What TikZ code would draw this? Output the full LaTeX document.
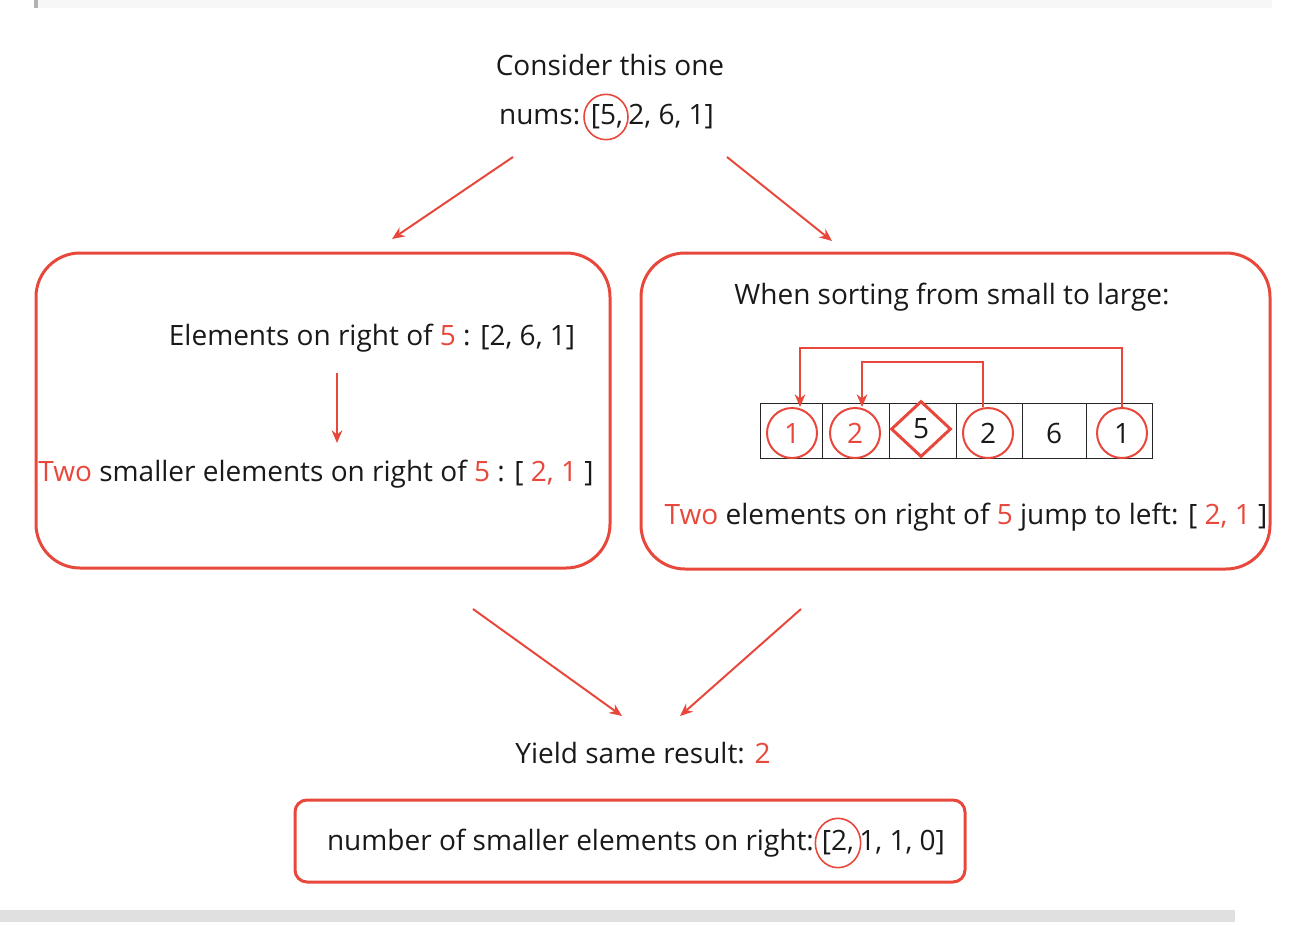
\documentclass[tikz,border=0pt]{standalone}
\usepackage{fontspec}
\setmainfont{Open Sans}
\usetikzlibrary{arrows.meta,shapes.geometric}
\definecolor{myred}{RGB}{232,72,60}
\definecolor{txtblack}{RGB}{25,25,25}
\begin{document}
\begin{tikzpicture}[x=0.75pt,y=-0.75pt,
  every node/.style={font=\fontsize{21}{25}\selectfont, text=txtblack},
  txt/.style={inner sep=0pt, outer sep=0pt},
  arr/.style={draw=myred, line width=1.5pt, -{Stealth[length=9.5pt,width=8pt]}},
  rbox/.style={draw=myred, line width=2.25pt, rounded corners=33pt, inner sep=0pt, outer sep=0pt},
  cell/.style={draw=black!85, line width=0.6pt, minimum width=#1, minimum height=41.25pt, inner sep=0pt, outer sep=0pt},
  ring/.style={circle, draw=myred, line width=1.5pt, minimum size=37.5pt, inner sep=0pt},
  hl/.style={ellipse, draw=myred, line width=1.2pt, inner sep=0pt}
]
\useasboundingbox (0,0) rectangle (1294,924);
% page bands
\fill[black!3] (38,0) rectangle (1272,8);
\fill[black!30] (34,0) rectangle (38,8);
\fill[black!12] (0,910) rectangle (1235,922);

% top text
\node[txt] (consider) at (610,65) {Consider this one};
\node[txt] (n5) at (607,117) {[5,};
\node[hl, minimum width=33pt, minimum height=34pt] (n5c) at (606,117) {};
\node[txt, anchor=base east] (n0) at ([xshift=-8pt]n5.base west) {nums:};
\node[txt, anchor=base west] (n1) at ([xshift=4pt]n5.base east) {2, 6, 1]};

% arrows from top
\coordinate (a1s) at (513,157); \coordinate (a1e) at (392,239);
\coordinate (a2s) at (727,157); \coordinate (a2e) at (832,241);
\draw[arr] (a1s) -- (a1e);
\draw[arr] (a2s) -- (a2e);

% left box
\node[rbox, minimum width=430.5pt, minimum height=236.25pt] (lbox) at (323,410.5) {};
\node[txt] (lt1) at (372,338) {Elements on right of {\color{myred}5} : [2, 6, 1]};
\node[txt] (lt2) at (316,474) {{\color{myred}Two} smaller elements on right of {\color{myred}5} : [ {\color{myred}2, 1} ]};
\coordinate (a3s) at (337,373); \coordinate (a3e) at (337,443);
\draw[arr] (a3s) -- (a3e);

% right box
\node[rbox, minimum width=471.75pt, minimum height=237pt] (rbx) at (955.5,411) {};
\node[txt] (rt1) at (952,297) {When sorting from small to large:};
\node[cell=46.5pt] (c1) at (791,430.5) {};
\node[cell=50.25pt] (c2) at (855.5,430.5) {};
\node[cell=50.25pt] (c3) at (922.5,430.5) {};
\node[cell=49.5pt] (c4) at (989,430.5) {};
\node[cell=48pt] (c5) at (1054,430.5) {};
\node[cell=49.5pt] (c6) at (1119,430.5) {};
\node[ring, text=myred] (r1) at (792,433) {1};
\node[ring, text=myred] (r2) at (855,433) {2};
\node[diamond, draw=myred, line width=2.25pt, minimum width=45pt, minimum height=42pt, inner sep=0pt] (d5) at (921,429) {5};
\node[ring] (r4) at (988,433) {2};
\node[txt] (t6) at (1054,433) {6};
\node[ring] (r6) at (1122,433) {1};
\draw[arr] (r6.north) -- (r6.north |- 0,348) -| ([xshift=6pt]r1.north);
\draw[arr] ([xshift=-3.75pt]r4.north) -- ([xshift=-3.75pt]r4.north |- 0,362) -| ([xshift=5.25pt]r2.north);
\node[txt] (rt2) at (966,517) {{\color{myred}Two} elements on right of {\color{myred}5} jump to left: [ {\color{myred}2, 1} ]};

% lower arrows
\coordinate (a4s) at (473,609); \coordinate (a4e) at (622,716);
\coordinate (a5s) at (801,609); \coordinate (a5e) at (680,716);
\draw[arr] (a4s) -- (a4e);
\draw[arr] (a5s) -- (a5e);
\node[txt] (yield) at (643,753) {Yield same result: {\color{myred}2}};

% bottom box
\node[draw=myred, line width=2.25pt, rounded corners=9pt, minimum width=502.5pt, minimum height=61.5pt, inner sep=0pt] (bbox) at (630,841) {};
\node[txt] (b2) at (838,843) {[2,};
\node[hl, minimum width=34pt, minimum height=37pt] (b2c) at (838,843) {};
\node[txt, anchor=base east] (b0) at ([xshift=-6pt]b2.base west) {number of smaller elements on right:};
\node[txt, anchor=base west] (b1) at ([xshift=4pt]b2.base east) {1, 1, 0]};
\end{tikzpicture}
\end{document}
